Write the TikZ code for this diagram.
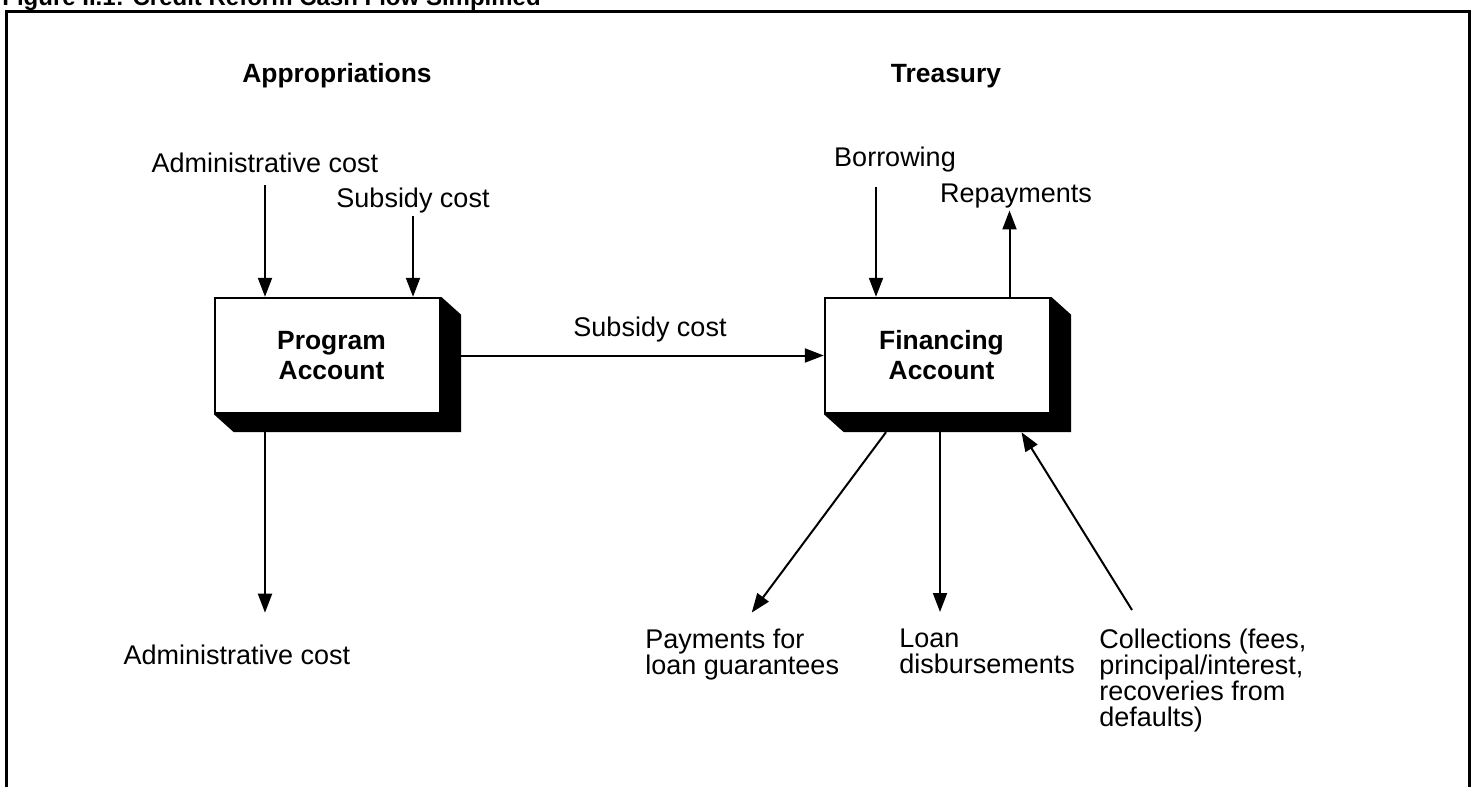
\documentclass[tikz,border=0pt]{standalone}
\usepackage{fontspec}
\setmainfont{Liberation Sans}
\usetikzlibrary{arrows.meta,positioning}

\tikzset{
  lbl/.style={inner sep=1pt, font=\fontsize{13.5}{13}\selectfont, align=left},
  head/.style={inner sep=1pt, font=\bfseries\fontsize{13.2}{13}\selectfont},
  acct/.style={draw, line width=1.2pt, fill=white, minimum width=112.5pt,
    minimum height=57.5pt, align=center, font=\bfseries\fontsize{13.2}{15}\selectfont},
  flow/.style={line width=1pt, -{Triangle[length=9.5pt,width=7pt]}},
}

% solid block below and right of an account box
\newcommand{\acctshadow}[1]{%
  \fill (#1.north east) -- ([shift={(10pt,-9pt)}]#1.north east)
    -- ([shift={(10pt,-9pt)}]#1.south east) -- ([shift={(10pt,-9pt)}]#1.south west)
    -- (#1.south west) -- (#1.south east) -- cycle;}

\begin{document}
\begin{tikzpicture}[x=0.5pt, y=-0.5pt]
    \useasboundingbox (0,0) rectangle (1475,786);

    % Title, cut off at the top
    \node[anchor=base west, inner sep=0, font=\bfseries\fontsize{12}{12}\selectfont] (title) at (2,6) {Figure II.1: Credit Reform Cash Flow Simplified};
    % Frame
    \draw[line width=1.5pt] (6,800) -- (6,12) -- (1469,12) -- (1469,800);

    % Column heads
    \node[head] (apptitle) at (337,76) {Appropriations};
    \node[head] (treastitle) at (946,76) {Treasury};

    % Accounts
    \node[acct] (prog) at (327.5,355.5) {\hspace*{4pt}Program\\\hspace*{4pt}Account};
    \node[acct] (fin) at (937.5,355.5) {\hspace*{4pt}Financing\\\hspace*{4pt}Account};
    \acctshadow{prog}
    \acctshadow{fin}

    % Program account flows
    \node[lbl] (admin) at (265,163) {Administrative cost};
    \node[lbl] (subsidy) at (413,201) {Subsidy cost};
    \node[lbl] (adminout) at (237,655) {Administrative cost};
    \coordinate (progfoot) at ([yshift=-9pt]prog.south);
    \draw[flow, shorten <=5pt] (admin.south) -- (admin.south |- prog.north);
    \draw[flow] (subsidy.south) -- (subsidy.south |- prog.north);
    \draw[flow, shorten >=15pt] (progfoot -| admin.south) -- (adminout.north -| admin.south);

    % Subsidy transfer
    \node[lbl] (subsidymid) at (650,330) {Subsidy cost};
    \draw[flow] ([xshift=10pt]prog.east) -- (fin.west);

    % Financing account flows
    \node[lbl] (borrow) at (895,160) {Borrowing};
    \node[lbl] (repay) at (1016,196) {Repayments};
    \coordinate (borrowfoot) at ([xshift=-30.75pt]fin.north);
    \coordinate (repayfoot) at ([xshift=36pt]fin.north);
    \draw[flow, shorten <=6pt] (borrow.south -| borrowfoot) -- (borrowfoot);
    \draw[flow] (repayfoot) -- (repayfoot |- repay.south);

    \node[lbl, anchor=north west] (payguar) at (643,627) {Payments for\\loan guarantees};
    \node[lbl, anchor=north west] (loandis) at (897,627) {Loan\\disbursements};
    \node[lbl, anchor=north west] (collect) at (1097,627) {Collections (fees,\\principal/interest,\\recoveries from\\defaults)};
    \coordinate (finfoot) at ([yshift=-9pt]fin.south);
    \coordinate (loantip) at ([xshift=21.5pt]loandis.north west);
    \draw[flow, shorten >=9pt] ([xshift=-25.75pt]finfoot) -- ([xshift=49pt]payguar.north west);
    \draw[flow, shorten >=7.5pt] (finfoot -| loantip) -- (loantip);
    \draw[flow] ([shift={(17.5pt,8.5pt)}]collect.north west) -- ([xshift=42pt]finfoot);
\end{tikzpicture}
\end{document}
